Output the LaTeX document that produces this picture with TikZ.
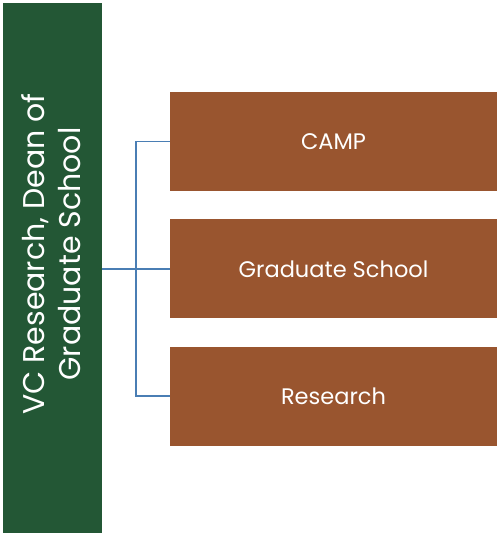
\documentclass[tikz,border=0pt]{standalone}
\usepackage{fontspec}
\setmainfont{Poppins}
\usetikzlibrary{positioning}
\definecolor{deangreen}{HTML}{235735}
\definecolor{deptbrown}{HTML}{99552F}
\definecolor{linkblue}{HTML}{4A7EB4}
\tikzset{
  dean/.style={fill=deangreen, minimum width=99pt, minimum height=530pt, inner sep=0pt},
  dept/.style={fill=deptbrown, text=white, minimum width=327pt, minimum height=99pt, inner sep=0pt,
    font=\fontsize{22.5}{27}\selectfont},
  link/.style={draw=linkblue, line width=1.8pt}
}

\begin{document}
\begin{tikzpicture}[x=1pt,y=-1pt]
\useasboundingbox (0,0) rectangle (497,533);

\node[dean](vc) at (52.5,268) {};
\node[rotate=90, align=center, text=white, font=\fontsize{30}{36}\selectfont](vclabel) at (51,254)
  {VC Research, Dean of\\Graduate School};

\node[dept](camp) at (333.5,141.5) {CAMP};
\node[dept, below=28pt of camp](grad) {Graduate School};
\node[dept, below=28pt of grad](research) {Research};

\coordinate (fork) at (136,268.5);

\draw[link] (vc.east |- grad) -- (grad.west);
\draw[link] (camp.west) -| (fork) |- (research.west);

\end{tikzpicture}
\end{document}
